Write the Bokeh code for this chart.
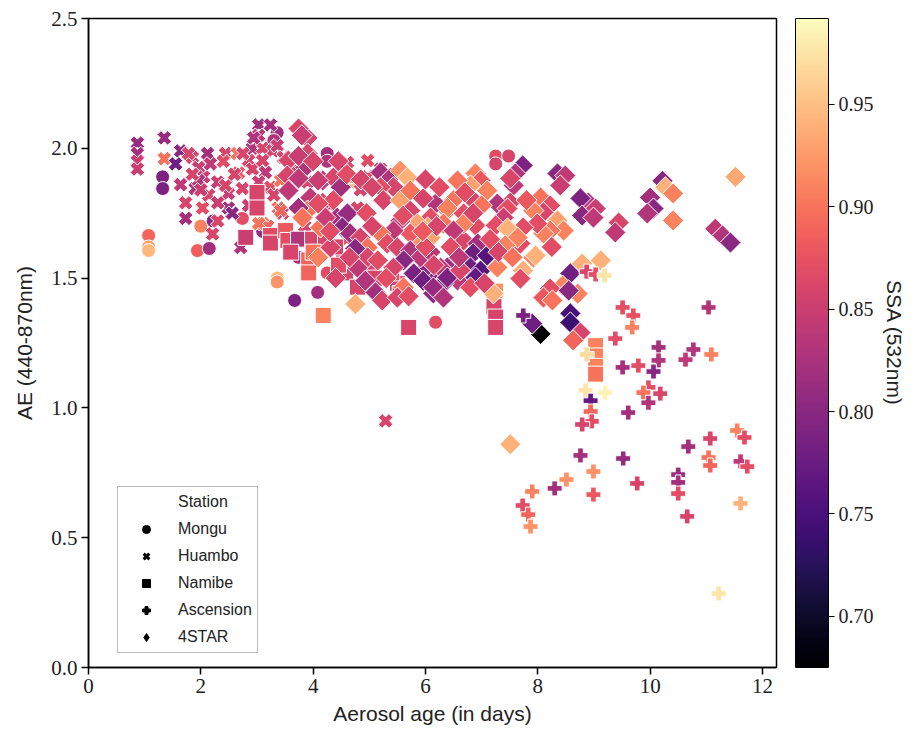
import math
from bokeh.plotting import figure
from bokeh.models import (ColumnDataSource, LinearColorMapper, ColorBar, FixedTicker,
                          LinearAxis, Legend, LegendItem, Range1d, PrintfTickFormatter)
from bokeh.palettes import Magma256
from bokeh.transform import transform
from bokeh.embed import file_html
from bokeh.resources import INLINE

# ---------------- data (aerosol age [days], AE 440-870nm, SSA 532nm) ----------------
mongu_age = [1.32, 1.32, 1.07, 1.07, 1.07, 1.94, 2.15, 2.00, 2.22, 2.74, 3.36, 3.30, 3.36, 3.36,
             3.67, 4.08, 4.25, 4.25, 4.72, 4.66, 4.25, 3.74, 6.18, 7.25, 7.48, 7.25, 3.10]
mongu_ae = [1.89, 1.845, 1.664, 1.62, 1.606, 1.606, 1.614, 1.70, 1.72, 1.73, 2.06, 2.03, 1.50, 1.485,
            1.414, 1.445, 1.98, 1.95, 1.87, 1.89, 1.52, 1.58, 1.33, 1.97, 1.97, 1.94, 1.68]
mongu_ssa = [0.79, 0.79, 0.89, 0.93, 0.945, 0.885, 0.82, 0.91, 0.80, 0.87, 0.82, 0.83, 0.945, 0.92,
             0.79, 0.82, 0.82, 0.83, 0.945, 0.93, 0.87, 0.82, 0.87, 0.87, 0.86, 0.86, 0.81]

huambo_age = [0.87, 0.87, 0.87, 0.87, 1.35, 1.35, 1.64, 1.55, 1.64, 1.73, 1.73, 1.85, 1.96, 1.90,
              2.12, 2.05, 2.17, 2.03, 2.14, 2.21, 2.30, 2.44, 2.65, 2.67, 2.74, 2.49, 2.49, 2.56,
              2.71, 2.92, 3.03, 3.03, 2.85, 3.10, 3.28, 2.92, 3.15, 3.03, 3.24, 3.42, 3.38, 3.45,
              3.10, 3.19, 1.96, 2.30, 2.44, 1.78, 4.61, 4.97, 5.20, 4.97, 4.84, 5.25, 4.79, 3.42,
              3.03, 3.24, 2.94, 3.36, 3.47, 3.10, 3.63, 3.90, 4.00, 4.30, 4.40, 3.85, 4.60, 5.29,
              2.30, 2.60, 2.00, 1.85, 2.85, 3.30, 2.40, 2.75]
huambo_ae = [2.02, 1.98, 1.95, 1.92, 2.04, 1.96, 1.99, 1.94, 1.86, 1.79, 1.73, 1.965, 1.926, 1.845,
             1.98, 1.89, 1.94, 1.77, 1.82, 1.67, 1.87, 1.98, 1.98, 1.905, 1.845, 1.826, 1.77, 1.75,
             1.618, 2.00, 2.09, 2.05, 1.953, 2.00, 1.99, 1.92, 1.907, 1.87, 1.85, 1.876, 1.77, 1.75,
             1.71, 1.70, 1.876, 1.79, 1.857, 1.98, 1.945, 1.953, 1.92, 1.89, 1.84, 1.83, 1.77, 1.76,
             1.71, 2.09, 2.04, 2.01, 1.965, 1.953, 1.91, 1.87, 1.80, 1.78, 1.72, 1.70, 1.65, 0.95,
             1.72, 1.90, 1.84, 1.90, 1.78, 1.82, 1.95, 1.98]
huambo_ssa = [0.81, 0.82, 0.85, 0.85, 0.81, 0.90, 0.80, 0.78, 0.84, 0.86, 0.82, 0.86, 0.85, 0.83,
              0.82, 0.85, 0.84, 0.87, 0.86, 0.86, 0.85, 0.86, 0.90, 0.88, 0.86, 0.85, 0.82, 0.80,
              0.83, 0.83, 0.82, 0.84, 0.86, 0.86, 0.86, 0.86, 0.84, 0.85, 0.87, 0.90, 0.89, 0.86,
              0.90, 0.89, 0.83, 0.85, 0.86, 0.86, 0.86, 0.87, 0.86, 0.87, 0.86, 0.87, 0.86, 0.89,
              0.90, 0.82, 0.83, 0.85, 0.86, 0.86, 0.86, 0.86, 0.90, 0.86, 0.89, 0.86, 0.87, 0.86,
              0.86, 0.86, 0.85, 0.86, 0.85, 0.86, 0.87, 0.86]

namibe_age = [3.00, 3.00, 2.80, 3.24, 3.24, 3.51, 3.55, 3.74, 3.99, 3.92, 3.92, 4.18, 4.22, 4.54,
              4.58, 4.79, 5.50, 5.55, 5.70, 4.00, 4.40, 7.25, 7.22, 7.22, 7.25, 7.25, 9.03, 9.03,
              9.03, 9.03, 5.05, 5.40, 3.60, 4.45, 5.10]
namibe_ae = [1.83, 1.77, 1.657, 1.664, 1.635, 1.683, 1.645, 1.65, 1.65, 1.57, 1.52, 1.356, 1.65, 1.56,
             1.52, 1.465, 1.48, 1.44, 1.31, 1.60, 1.62, 1.45, 1.42, 1.39, 1.35, 1.31, 1.24, 1.20,
             1.16, 1.13, 1.55, 1.52, 1.60, 1.55, 1.50]
namibe_ssa = [0.86, 0.86, 0.85, 0.87, 0.86, 0.88, 0.87, 0.83, 0.86, 0.89, 0.89, 0.91, 0.86, 0.86,
              0.86, 0.86, 0.86, 0.86, 0.86, 0.90, 0.86, 0.92, 0.87, 0.86, 0.86, 0.86, 0.91, 0.91,
              0.91, 0.90, 0.86, 0.87, 0.86, 0.87, 0.86]

star_age = [11.52, 10.22, 10.27, 10.41, 10.00, 10.06, 9.95, 10.41, 11.16, 11.29, 11.43, 9.44, 9.38, 8.90,
            9.03, 8.76, 8.79, 8.99, 8.35, 8.49, 8.40, 7.73, 7.60, 7.57, 7.51, 8.05, 8.22, 8.10,
            7.92, 8.35, 8.46, 8.22, 8.10, 7.99, 7.74, 7.51, 7.69, 7.92, 7.74, 8.79, 9.12, 8.58,
            8.44, 8.22, 8.10, 8.26, 8.71, 8.55, 8.58, 8.58, 8.76, 8.63, 8.05, 7.90, 7.51, 6.89,
            6.98, 6.80, 7.10, 6.50, 6.39, 6.18, 6.09, 6.04, 6.68, 6.89, 6.68, 6.93, 7.28, 7.46,
            7.39, 7.25, 7.46, 7.64, 7.42, 7.96, 7.69, 6.85, 7.10, 6.80, 6.98, 7.28, 6.57, 6.39,
            6.32, 6.14, 6.09, 6.89, 6.80, 7.21, 5.96, 7.51,
            3.90, 3.90, 3.86, 4.17, 4.36, 4.49, 3.95, 4.17, 4.36, 3.90, 4.43, 4.61, 4.13, 4.52,
            4.66, 4.84, 4.97, 4.75, 4.97, 5.15, 4.79, 4.93, 5.11, 4.75, 5.23, 5.20, 5.38, 5.55,
            5.68, 5.43, 5.20, 5.25, 5.55, 5.73, 5.73, 5.96, 5.86, 5.82, 6.09, 5.73, 5.55, 5.43,
            5.20, 5.32, 5.50, 5.73, 5.91, 5.61, 5.43, 5.79, 5.96, 6.27, 6.14, 6.39, 6.32, 5.61,
            5.50, 6.62, 6.57, 6.39, 6.68, 6.85,
            3.74, 3.80, 3.56, 3.74, 3.54, 3.74, 4.09, 3.56, 4.09, 3.74, 4.22, 4.09, 4.31, 3.81,
            6.32, 6.50, 6.09,
            4.45, 4.60, 4.85, 4.95, 5.05, 4.30, 4.65, 5.30, 5.70, 6.00, 6.20, 6.45, 6.60, 6.25,
            6.00, 6.70, 7.00, 7.15, 7.30, 7.55, 7.80, 8.25, 5.05, 5.60, 6.15, 4.40, 5.95, 6.85,
            7.05, 4.00]
star_ae = [1.89, 1.875, 1.85, 1.826, 1.81, 1.768, 1.749, 1.722, 1.69, 1.664, 1.637, 1.714, 1.676, 1.791,
           1.768, 1.807, 1.741, 1.733, 1.903, 1.895, 1.857, 1.934, 1.903, 1.857, 1.791, 1.81, 1.78, 1.753,
           1.76, 1.722, 1.683, 1.683, 1.672, 1.71, 1.695, 1.683, 1.633, 1.579, 1.529, 1.556, 1.568, 1.518,
           1.471, 1.46, 1.425, 1.414, 1.44, 1.452, 1.364, 1.329, 1.29, 1.26, 1.285, 1.325, 1.884, 1.903,
           1.876, 1.857, 1.837, 1.80, 1.76, 1.787, 1.733, 1.695, 1.749, 1.703, 1.645, 1.633, 1.787, 1.768,
           1.733, 1.703, 1.691, 1.656, 1.626, 1.587, 1.498, 1.595, 1.587, 1.541, 1.529, 1.541, 1.491, 1.541,
           1.479, 1.441, 1.518, 1.502, 1.464, 1.441, 1.529, 0.86,
           2.04, 1.98, 1.926, 1.876, 1.887, 1.85, 1.81, 1.79, 1.80, 1.76, 1.733, 1.749, 1.695, 1.695,
           1.672, 1.656, 1.618, 1.614, 1.58, 1.568, 1.54, 1.49, 1.445, 1.40, 1.414, 1.907, 1.887, 1.914,
           1.887, 1.85, 1.85, 1.80, 1.80, 1.837, 1.76, 1.807, 1.71, 1.656, 1.656, 1.672, 1.72, 1.683,
           1.672, 1.633, 1.618, 1.606, 1.58, 1.568, 1.54, 1.518, 1.49, 1.54, 1.464, 1.502, 1.425, 1.464,
           1.425, 1.53, 1.876, 1.77, 1.71, 1.80,
           2.076, 2.05, 1.953, 1.97, 1.895, 1.884, 1.876, 1.837, 1.787, 1.77, 1.733, 1.58, 1.618, 1.733,
           1.71, 1.683, 1.60,
           1.95, 1.90, 1.88, 1.75, 1.70, 1.68, 1.58, 1.50, 1.43, 1.62, 1.70, 1.62, 1.58, 1.85,
           1.88, 1.83, 1.78, 1.65, 1.60, 1.58, 1.80, 1.62, 1.85, 1.74, 1.55, 1.50, 1.68, 1.75,
           1.48, 1.95]
star_ssa = [0.935, 0.80, 0.94, 0.91, 0.82, 0.80, 0.83, 0.91, 0.84, 0.83, 0.80, 0.86, 0.84, 0.83,
            0.85, 0.79, 0.80, 0.84, 0.80, 0.84, 0.85, 0.79, 0.83, 0.84, 0.86, 0.90, 0.87, 0.86,
            0.91, 0.93, 0.91, 0.90, 0.91, 0.87, 0.87, 0.90, 0.87, 0.91, 0.94, 0.94, 0.94, 0.78,
            0.91, 0.87, 0.88, 0.90, 0.91, 0.80, 0.75, 0.74, 0.86, 0.89, 0.675, 0.78, 0.86, 0.91,
            0.88, 0.93, 0.91, 0.90, 0.91, 0.83, 0.87, 0.93, 0.87, 0.87, 0.86, 0.82, 0.83, 0.87,
            0.85, 0.87, 0.94, 0.91, 0.91, 0.94, 0.87, 0.78, 0.76, 0.78, 0.76, 0.91, 0.84, 0.82,
            0.79, 0.80, 0.80, 0.77, 0.87, 0.94, 0.80, 0.94,
            0.86, 0.86, 0.83, 0.84, 0.86, 0.82, 0.84, 0.86, 0.87, 0.90, 0.82, 0.81, 0.90, 0.80,
            0.82, 0.86, 0.90, 0.80, 0.86, 0.87, 0.84, 0.83, 0.82, 0.94, 0.86, 0.82, 0.83, 0.92,
            0.94, 0.86, 0.87, 0.86, 0.93, 0.90, 0.86, 0.86, 0.93, 0.92, 0.93, 0.88, 0.83, 0.84,
            0.90, 0.87, 0.86, 0.83, 0.84, 0.80, 0.86, 0.79, 0.78, 0.84, 0.81, 0.79, 0.83, 0.90,
            0.86, 0.86, 0.90, 0.91, 0.91, 0.86,
            0.86, 0.85, 0.86, 0.85, 0.86, 0.84, 0.85, 0.84, 0.87, 0.82, 0.85, 0.91, 0.86, 0.90,
            0.90, 0.84, 0.84,
            0.86, 0.87, 0.86, 0.87, 0.86, 0.87, 0.86, 0.87, 0.87, 0.87, 0.86, 0.87, 0.84, 0.87,
            0.86, 0.87, 0.90, 0.87, 0.86, 0.90, 0.88, 0.87, 0.86, 0.87, 0.86, 0.86, 0.88, 0.86,
            0.86, 0.86]

asc_age = [8.87, 9.03, 9.19, 9.51, 9.70, 9.68, 11.04, 9.38, 10.15, 10.15, 10.06, 9.79, 9.51, 10.77,
           10.63, 11.09, 8.87, 8.85, 9.20, 8.94, 8.94, 8.96, 8.79, 9.97, 9.88, 10.18, 9.97, 9.61,
           11.55, 11.68, 11.07, 10.68, 11.04, 11.07, 11.61, 11.73, 8.76, 9.52, 8.99, 8.51, 8.30, 7.90,
           8.99, 9.77, 7.73, 7.83, 7.87, 10.50, 10.50, 10.50, 10.66, 11.61, 11.22, 7.74]
asc_ae = [1.525, 1.514, 1.51, 1.387, 1.356, 1.31, 1.387, 1.267, 1.233, 1.183, 1.14, 1.163, 1.156, 1.225,
          1.186, 1.206, 1.206, 1.067, 1.059, 1.028, 0.986, 0.948, 0.936, 1.079, 1.059, 1.055, 1.02, 0.982,
          0.913, 0.886, 0.882, 0.851, 0.809, 0.778, 0.794, 0.774, 0.817, 0.805, 0.755, 0.724, 0.69, 0.678,
          0.666, 0.709, 0.624, 0.589, 0.543, 0.743, 0.713, 0.67, 0.582, 0.632, 0.285, 1.356]
asc_ssa = [0.86, 0.87, 0.975, 0.87, 0.875, 0.91, 0.83, 0.87, 0.82, 0.83, 0.80, 0.87, 0.82, 0.83,
           0.84, 0.91, 0.97, 0.975, 0.985, 0.77, 0.89, 0.87, 0.86, 0.87, 0.90, 0.86, 0.83, 0.82,
           0.91, 0.87, 0.86, 0.82, 0.90, 0.89, 0.84, 0.87, 0.82, 0.81, 0.92, 0.92, 0.82, 0.91,
           0.88, 0.86, 0.87, 0.89, 0.92, 0.81, 0.82, 0.87, 0.86, 0.94, 0.975, 0.79]

stations = ["Mongu", "Huambo", "Namibe", "Ascension", "4STAR"]
x_ticks = [0, 2, 4, 6, 8, 10, 12]
y_ticks = [0.0, 0.5, 1.0, 1.5, 2.0, 2.5]
ssa_ticks = [0.70, 0.75, 0.80, 0.85, 0.90, 0.95]
ssa_low, ssa_high = 0.675, 0.992

# ---------------- figure ----------------
SERIF = "Liberation Serif"
SANS = "Liberation Sans"

p = figure(width=911, height=736, output_backend="svg", toolbar_location=None,
           x_range=Range1d(0, 12.25), y_range=Range1d(0, 2.5),
           min_border_left=88, min_border_right=135, min_border_top=18, min_border_bottom=69)
p.grid.visible = False
p.outline_line_color = "black"
p.outline_line_width = 1.5
p.background_fill_color = "white"
p.border_fill_color = "white"

mapper = LinearColorMapper(palette=Magma256, low=ssa_low, high=ssa_high)

def src(a, b, c):
    return ColumnDataSource(dict(x=a, y=b, ssa=c))

common = dict(fill_color=transform("ssa", mapper), line_color="white", line_width=1)
p.scatter("x", "y", source=src(mongu_age, mongu_ae, mongu_ssa), marker="circle", size=14, **common)
p.scatter("x", "y", source=src(huambo_age, huambo_ae, huambo_ssa), marker="plus", size=15,
          angle=math.pi / 4, **common)
p.scatter("x", "y", source=src(namibe_age, namibe_ae, namibe_ssa), marker="square", size=16, **common)
p.scatter("x", "y", source=src(star_age, star_ae, star_ssa), marker="square", size=15,
          angle=math.pi / 4, **common)
p.scatter("x", "y", source=src(asc_age, asc_ae, asc_ssa), marker="plus", size=15, **common)

# axes
for ax in (p.xaxis, p.yaxis):
    ax.axis_line_color = "black"
    ax.axis_line_width = 1.5
    ax.major_tick_line_color = "black"
    ax.major_tick_line_width = 1.5
    ax.major_tick_out = 7
    ax.major_tick_in = 0
    ax.minor_tick_line_color = None
    ax.major_label_text_font = SERIF
    ax.major_label_text_font_size = "21px"
    ax.major_label_text_color = "#222222"
    ax.axis_label_text_font = SANS
    ax.axis_label_text_font_size = "21px"
    ax.axis_label_text_font_style = "normal"
    ax.axis_label_text_color = "#222222"
p.xaxis.ticker = FixedTicker(ticks=x_ticks)
p.yaxis.ticker = FixedTicker(ticks=y_ticks)
p.yaxis.formatter = PrintfTickFormatter(format="%.1f")
p.xaxis.formatter = PrintfTickFormatter(format="%d")
p.xaxis.axis_label = "Aerosol age (in days)"
p.yaxis.axis_label = "AE (440-870nm)"
p.xaxis.major_label_standoff = 4
p.yaxis.major_label_standoff = 4
p.xaxis.axis_label_standoff = 6
p.yaxis.axis_label_standoff = 12

# spacer between the frame and the colour bar
spacer = LinearAxis(axis_label=" ", ticker=FixedTicker(ticks=[]), axis_line_color=None,
                    major_tick_line_color=None, minor_tick_line_color=None,
                    major_label_text_font_size="0px", axis_label_standoff=4,
                    axis_label_text_font_size="11px")
p.add_layout(spacer, "right")

# colour bar
cb = ColorBar(color_mapper=mapper, width=33, padding=0, margin=0,
              ticker=FixedTicker(ticks=ssa_ticks), formatter=PrintfTickFormatter(format="%.2f"),
              major_tick_in=0, major_tick_out=6, major_tick_line_color="black",
              major_tick_line_width=1.2, bar_line_color="black", bar_line_width=1,
              label_standoff=4, major_label_text_font=SERIF, major_label_text_font_size="20px",
              major_label_text_color="#222222", border_line_color=None,
              background_fill_color="white")
p.add_layout(cb, "right")

tax = LinearAxis(axis_label="SSA (532nm)", ticker=FixedTicker(ticks=[]),
                 axis_line_color=None, major_tick_line_color=None, minor_tick_line_color=None,
                 major_label_text_font_size="0px", axis_label_standoff=6,
                 axis_label_text_font=SANS, axis_label_text_font_size="21px",
                 axis_label_text_font_style="normal", axis_label_text_color="#222222")
p.add_layout(tax, "right")

# legend (black markers, "Station" header without a marker); NaN points are never drawn in the plot
nan = float("nan")

def dummy(marker, alpha=1.0, **kw):
    return p.scatter(x=[nan], y=[nan], marker=marker, fill_color="black", line_color="black",
                     fill_alpha=alpha, line_alpha=alpha, **kw)

r_head = dummy("circle", alpha=0.0)
r_mongu = dummy("circle")
r_huambo = dummy("x", line_width=3)
r_namibe = dummy("square")
r_asc = dummy("plus")
r_star = dummy("diamond")

legend = Legend(items=[LegendItem(label="Station", renderers=[r_head]),
                       LegendItem(label=stations[0], renderers=[r_mongu]),
                       LegendItem(label=stations[1], renderers=[r_huambo]),
                       LegendItem(label=stations[2], renderers=[r_namibe]),
                       LegendItem(label=stations[3], renderers=[r_asc]),
                       LegendItem(label=stations[4], renderers=[r_star])],
                location=(29, 14), padding=5, spacing=7, glyph_width=46, glyph_height=20,
                label_height=20, label_standoff=9, label_text_font=SANS,
                label_text_font_size="16px", label_text_color="#222222",
                border_line_color="#777777", border_line_width=1,
                background_fill_color="white", background_fill_alpha=1.0)
p.add_layout(legend)

open("out.html", "w").write(file_html(p, INLINE))
